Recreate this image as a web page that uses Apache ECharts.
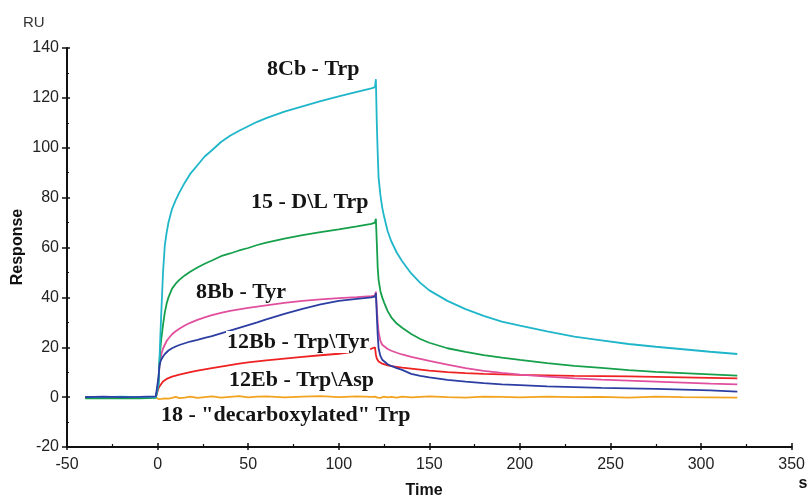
<!DOCTYPE html>
<html>
<head>
<meta charset="utf-8">
<script src="https://cdn.jsdelivr.net/npm/echarts@6/dist/echarts.min.js"></script>
<style>html,body{margin:0;padding:0;background:#fff}#c{width:808px;height:497px}</style>
</head>
<body>
<div id="c"></div>
<script>
// Time points (s)
const time = [-40, -30, -20, -10, -1, 0, 0.5, 1, 1.5, 2, 3, 4, 5, 6, 8, 10, 12, 15, 18, 22, 26, 30, 35, 40, 45, 50, 55, 60, 70, 80, 90, 100, 110, 118, 120, 120.5, 121, 121.5, 122, 123, 124, 125, 127, 129, 132, 135, 140, 145, 150, 160, 170, 180, 190, 200, 215, 230, 245, 260, 275, 290, 305, 320];
// Responses (RU)
const trp8Cb = [0, 0, 0.2, 0, 0, 0, 5, 14, 24, 33, 50, 61, 66, 70, 75.5, 79, 82, 86, 89.5, 93, 96.5, 99, 102.3, 104.8, 106.8, 108.6, 110.4, 111.9, 114.5, 116.6, 118.7, 120.6, 122.4, 123.8, 124.3, 127.5, 110, 98, 88, 81, 76, 72.5, 66.5, 62.5, 58, 54.5, 49.6, 45.8, 42.8, 38.6, 35.3, 32.6, 30.3, 28.7, 26.4, 24.3, 22.8, 21.3, 20.2, 19.2, 18.2, 17.3];
const dlTrp15 = [-0.5, -0.5, -0.4, -0.5, -0.3, -0.3, 5, 14, 19, 23, 29, 34, 37.5, 40, 43.5, 45.5, 47, 48.8, 50.3, 52, 53.5, 54.8, 56.5, 57.6, 58.8, 59.8, 61, 62, 63.6, 65, 66.2, 67.3, 68.5, 69.5, 70, 71.5, 62, 52, 47, 42.5, 40, 38, 34.5, 32, 29.5, 27.8, 25.3, 23.3, 21.8, 19.6, 18.1, 16.8, 15.8, 14.9, 13.6, 12.5, 11.7, 10.8, 10.1, 9.6, 9.1, 8.6];
const tyr8Bb = [0, 0, 0, 0, 0, 0, 6, 12, 15, 17, 19.5, 21, 22.5, 23.5, 25.2, 26.4, 27.4, 28.7, 29.8, 31, 32, 32.9, 33.8, 34.6, 35.2, 35.8, 36.3, 36.8, 37.8, 38.6, 39.2, 39.7, 40.1, 40.5, 40.7, 42.3, 36, 30, 26, 22.5, 21, 20.2, 19.3, 18.6, 17.8, 17.1, 16.1, 15.3, 14.5, 13, 11.6, 10.5, 9.7, 9, 8.2, 7.5, 7, 6.6, 6.2, 5.8, 5.4, 5.1];
const trpTyr12Bb = [0, 0.2, 0, 0.1, 0.3, 0.3, 8, 12.5, 14, 15, 16.3, 17.3, 18, 18.7, 19.6, 20.3, 20.9, 21.6, 22.3, 23, 23.8, 24.5, 25.6, 26.7, 27.8, 28.9, 30, 31.2, 33.4, 35.4, 37.2, 38.6, 39.4, 40, 40.3, 41.7, 33, 25, 19.5, 16.5, 15, 14.2, 13.2, 12.5, 11.6, 10.9, 9.3, 8.5, 7.9, 6.9, 6.2, 5.6, 5.1, 4.8, 4.3, 4, 3.7, 3.5, 3.3, 3, 2.7, 2.2];
const trpAsp12Eb = [0, 0, 0, 0, 0, 0, 3.5, 4.3, 4.8, 5.3, 6.3, 6.9, 7.3, 7.7, 8.2, 8.6, 9, 9.5, 10, 10.6, 11.1, 11.6, 12.2, 12.8, 13.4, 13.9, 14.3, 14.7, 15.4, 16.1, 16.8, 17.4, 18.4, 19.4, 20, 17, 15.5, 15, 14.3, 13.8, 13.4, 13.1, 12.7, 12.4, 12.1, 11.8, 11.4, 11, 10.6, 10, 9.6, 9.3, 9.1, 8.9, 8.7, 8.5, 8.4, 8.3, 8.1, 7.9, 7.7, 7.5];
const decarbTrp18 = [0, 0, 0, 0, 0, -0.3, -0.8, -0.6, -0.4, -0.7, -0.3, -0.5, -0.2, -0.6, -0.3, 0.1, -0.4, -0.2, 0.2, -0.3, 0, 0.3, -0.2, 0.1, 0.4, -0.1, 0.2, 0.3, -0.1, 0.2, 0.4, 0, 0.3, 0.1, 0.2, 0.1, 0, -0.2, 0.1, -0.3, 0, 0.2, -0.1, 0.1, -0.2, 0.2, -0.1, 0.1, 0.3, 0, -0.2, 0.2, 0.1, -0.1, 0.2, 0, 0.1, -0.2, 0.2, 0, -0.1, -0.2];
// Axis ticks
const xTicks = {min: -50, max: 350, step: 50};
const yTicks = {min: -20, max: 140, step: 20};
const curveLabels = ['8Cb - Trp', '15 - D\\L Trp', '8Bb - Tyr', '12Bb - Trp\\Tyr', '12Eb - Trp\\Asp', '18 - "decarboxylated" Trp'];

const chart = echarts.init(document.getElementById('c'), null, {renderer: 'canvas'});
const pairs = arr => time.map((t, i) => [t, arr[i]]);
const axisFont = 'Liberation Sans, Arial, sans-serif';
const mk = (data, color) => ({type: 'line', data: pairs(data), showSymbol: false, symbol: 'none', smooth: false,
  lineStyle: {color: color, width: 1.8}, itemStyle: {color: color}, animation: false});

const lbl = (text, x, y, bg) => ({type: 'text', x: x, y: y, z: 100,
  style: Object.assign({text: text, font: 'bold 22px "Liberation Serif", "Times New Roman", serif', fill: '#141414',
    verticalAlign: 'middle', align: 'left'}, bg ? {backgroundColor: '#fff', padding: [0, 1], lineHeight: 22} : {})});

const baseX = {type: 'value', min: xTicks.min, max: xTicks.max, interval: xTicks.step, position: 'bottom', splitLine: {show: false}};
const baseY = {type: 'value', min: yTicks.min, max: yTicks.max, interval: yTicks.step, position: 'left', splitLine: {show: false}};

chart.setOption({
  animation: false,
  backgroundColor: '#fff',
  grid: {left: 67, right: 16, top: 48, bottom: 50, containLabel: false},
  xAxis: [
    Object.assign({}, baseX, {
      axisLine: {onZero: false, lineStyle: {color: '#111', width: 2}},
      axisTick: {inside: false, length: 3, lineStyle: {color: '#111', width: 1.5}},
      axisLabel: {color: '#222', fontSize: 16, fontFamily: axisFont, margin: 10}
    }),
    Object.assign({}, baseX, {
      axisLine: {show: false, onZero: false},
      axisTick: {inside: true, length: 4, lineStyle: {color: '#111', width: 1.5}},
      minorTick: {show: true, splitNumber: 2, length: 3, lineStyle: {color: '#111', width: 1.2}},
      axisLabel: {show: false}
    })
  ],
  yAxis: [
    Object.assign({}, baseY, {
      axisLine: {onZero: false, lineStyle: {color: '#111', width: 2}},
      axisTick: {inside: false, length: 5, lineStyle: {color: '#111', width: 1.5}},
      axisLabel: {color: '#222', fontSize: 16, fontFamily: axisFont, margin: 8}
    }),
    Object.assign({}, baseY, {
      axisLine: {show: false, onZero: false},
      axisTick: {inside: true, length: 3, lineStyle: {color: '#111', width: 1.5}},
      minorTick: {show: true, splitNumber: 2, length: 2, lineStyle: {color: '#111', width: 1.2}},
      axisLabel: {show: false}
    })
  ],
  series: [
    mk(decarbTrp18, '#f2a31f'),
    mk(trpAsp12Eb, '#ee2222'),
    mk(tyr8Bb, '#e0509e'),
    mk(dlTrp15, '#16a04c'),
    mk(trp8Cb, '#1fb6c9'),
    mk(trpTyr12Bb, '#2d3ea3')
  ],
  graphic: [
    lbl(curveLabels[0], 267, 69, false),
    lbl(curveLabels[1], 251, 202, false),
    lbl(curveLabels[2], 196, 292, false),
    lbl(curveLabels[3], 226, 342, true),
    lbl(curveLabels[4], 229, 380, false),
    lbl(curveLabels[5], 161, 415, false),
    {type: 'text', x: 23, y: 23, z: 100, style: {text: 'RU', font: '15px ' + axisFont, fill: '#333', verticalAlign: 'middle'}},
    {type: 'text', x: 18, y: 247, rotation: Math.PI / 2, z: 100, style: {text: 'Response', font: 'bold 16px ' + axisFont, fill: '#111', align: 'center', verticalAlign: 'middle'}},
    {type: 'text', x: 424, y: 491, z: 100, style: {text: 'Time', font: 'bold 16px ' + axisFont, fill: '#111', align: 'center', verticalAlign: 'middle'}},
    {type: 'text', x: 803, y: 484, z: 100, style: {text: 's', font: 'bold 16px ' + axisFont, fill: '#111', align: 'center', verticalAlign: 'middle'}}
  ]
});
</script>
</body>
</html>
